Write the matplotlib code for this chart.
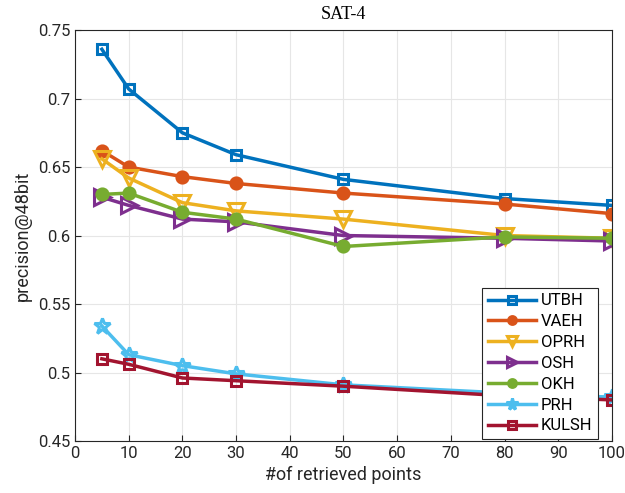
import matplotlib.pyplot as plt
import numpy as np

# data
x = [5, 10, 20, 30, 50, 80, 100]
methods = ['UTBH', 'VAEH', 'OPRH', 'OSH', 'OKH', 'PRH', 'KULSH']
utbh = [0.736, 0.707, 0.675, 0.659, 0.641, 0.627, 0.622]
vaeh = [0.662, 0.650, 0.643, 0.638, 0.631, 0.623, 0.616]
oprh = [0.656, 0.642, 0.624, 0.618, 0.612, 0.600, 0.598]
osh = [0.628, 0.622, 0.612, 0.610, 0.600, 0.598, 0.596]
okh = [0.630, 0.631, 0.617, 0.612, 0.592, 0.599, 0.598]
prh = [0.534, 0.513, 0.505, 0.499, 0.491, 0.485, 0.482]
kulsh = [0.510, 0.506, 0.496, 0.494, 0.490, 0.483, 0.480]

series = [utbh, vaeh, oprh, osh, okh, prh, kulsh]
colors = ['#0072BD', '#D95319', '#EDB120', '#7E2F8E', '#77AC30', '#4DBEEE', '#A2142F']
markers = ['s', 'o', 'v', '>', 'o', '*', 's']
filled = [False, True, False, False, True, False, False]
msizes = [7.5, 8, 11, 11, 8, 12, 7.5]

plt.rcParams['font.family'] = ['Roboto', 'DejaVu Sans']

fig = plt.figure(figsize=(6.25, 4.93), dpi=100)
ax = fig.add_axes([0.12, 0.1055, 0.859, 0.8335])

for vals, name, c, m, f, ms in zip(series, methods, colors, markers, filled, msizes):
    ax.plot(x, vals, color=c, lw=2.5, marker=m, markersize=ms,
            markerfacecolor=c if f else 'none', markeredgewidth=2.2,
            markeredgecolor=c, label=name)

ax.set_xlim(0, 100)
ax.set_ylim(0.45, 0.75)
ax.set_xticks(np.arange(0, 101, 10))
ax.set_yticks(np.arange(0.45, 0.751, 0.05))
ax.set_yticklabels(['0.45', '0.5', '0.55', '0.6', '0.65', '0.7', '0.75'])
ax.tick_params(labelsize=12, direction='in', length=4, color='#262626', labelcolor='#262626')
ax.grid(True, color='#e6e6e6', lw=0.8)
ax.set_axisbelow(True)
for s in ax.spines.values():
    s.set_color('#262626')
    s.set_linewidth(0.8)

ax.set_xlabel('#of retrieved points', fontsize=13, color='#262626')
ax.set_ylabel('precision@48bit', fontsize=13, color='#262626')
ax.set_title('SAT-4', fontsize=13, family='Liberation Serif', pad=8)

leg = ax.legend(loc='lower right', bbox_to_anchor=(0.978, 0.0), fontsize=12,
                frameon=True, fancybox=False, framealpha=1, edgecolor='#262626',
                handlelength=2.9, borderaxespad=0.1, markerscale=0.7,
                labelspacing=0.35, borderpad=0.35, handletextpad=0.3)
leg.get_frame().set_linewidth(0.8)

fig.savefig('out.png', dpi=100)
